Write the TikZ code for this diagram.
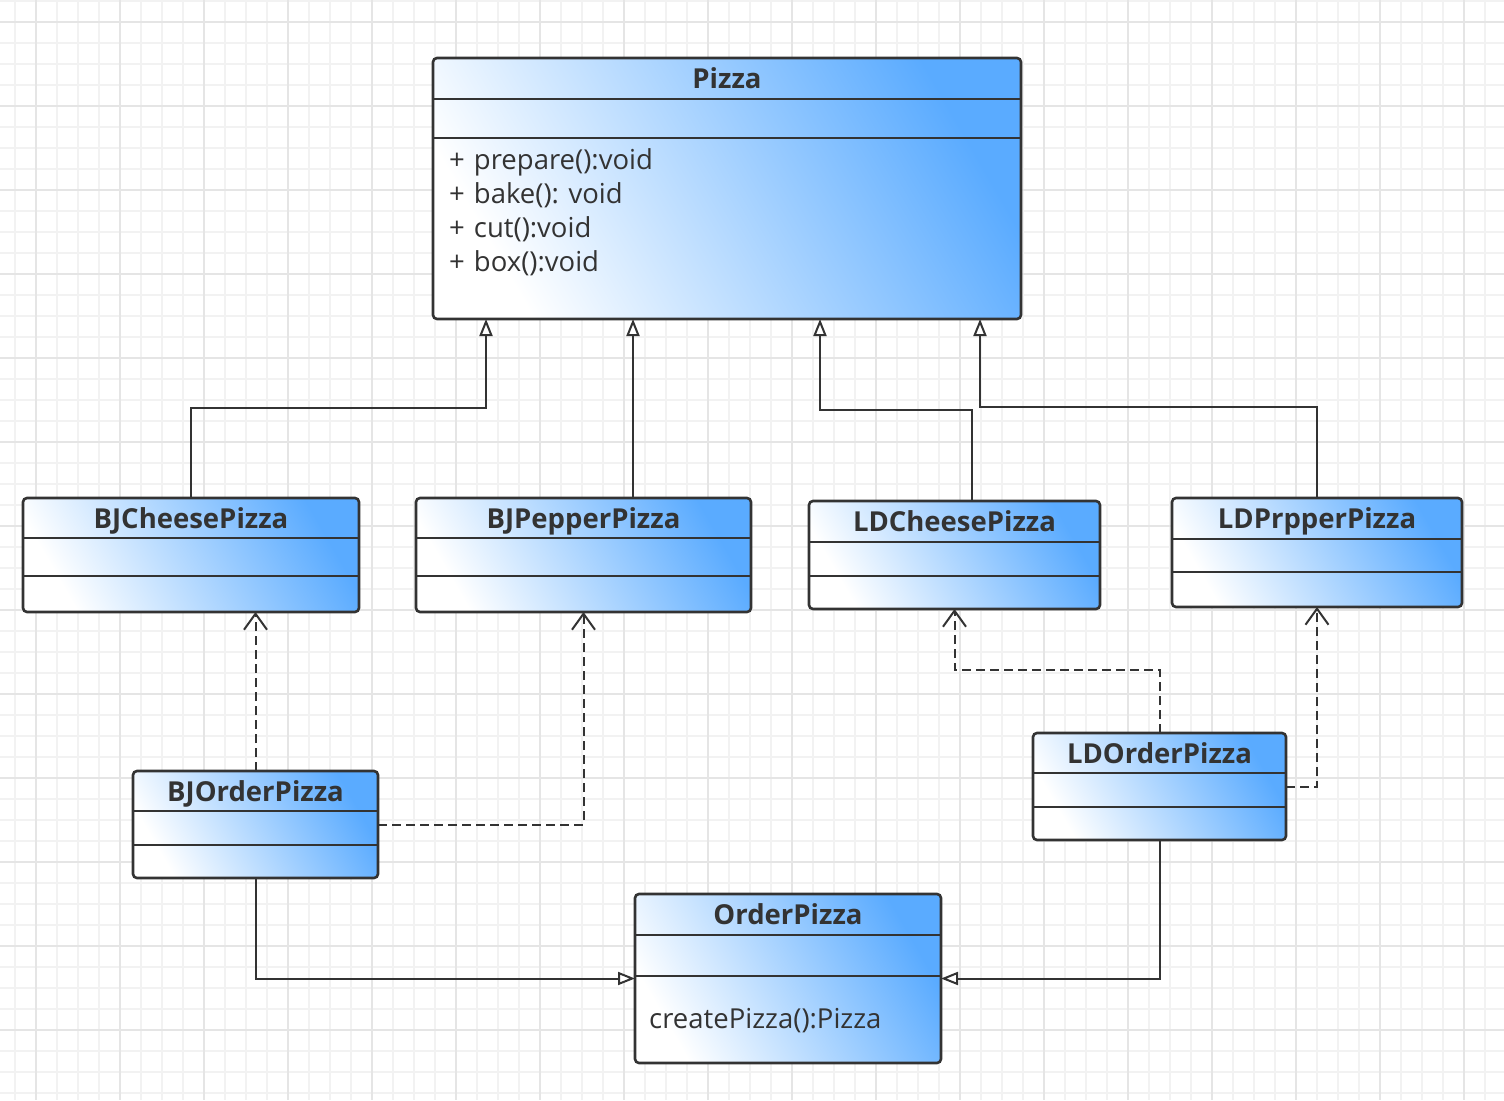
\documentclass[tikz,border=0pt]{standalone}
\usepackage{fontspec}
\setmainfont{Open Sans}
\usetikzlibrary{arrows.meta,calc}
\definecolor{ink}{HTML}{333333}
\definecolor{gradb}{HTML}{5AABFF}
\definecolor{gridminor}{HTML}{F2F2F2}
\definecolor{gridmajor}{HTML}{E5E5E5}
\newcommand\umlclass[8]{%
  \node[classbox, minimum width={#4-#2}, minimum height={#5-#3}] (#1) at (#2,#3) {};
  \draw[divider] (#1.west |- 0,#6) -- (#1.east |- 0,#6);
  \draw[divider] (#1.west |- 0,#7) -- (#1.east |- 0,#7);
  \node[titletext] (#1-title) at ({(#2+#4)/2},{(#3+#6)/2+10}) {#8};
}
\newcommand\plussign{+\hspace{9pt}}
\begin{document}
\begin{tikzpicture}[x=1pt,y=-1pt,
  classbox/.style={draw=ink, line width=2.6pt, rounded corners=4pt,
    left color=white, right color=gradb, shading angle=120,
    inner sep=0pt, outer sep=0pt, anchor=north west, rectangle},
  divider/.style={draw=ink, line width=2.4pt},
  titletext/.style={font=\bfseries\fontsize{27.5}{32}\selectfont, text=ink, inner sep=0pt, anchor=base},
  bodytext/.style={font=\fontsize{27.5}{32}\selectfont, text=ink, inner sep=0pt, anchor=base west},
  inh/.style={draw=ink, line width=2pt, -{Triangle[open, length=17pt, width=13pt, fill=white]}},
  dep/.style={draw=ink, line width=2pt, dash pattern=on 9pt off 5pt, -{Straight Barb[length=16pt, width=23pt]}},
]
\useasboundingbox (0,0) rectangle (1504,1100);
\fill[white] (0,0) rectangle (1504,1100);
% grid
\foreach \x in {15,36,...,1504} \draw[gridminor, line width=1.5pt] (\x,0) -- (\x,1100);
\foreach \y in {1,22,...,1100} \draw[gridminor, line width=1.5pt] (0,\y) -- (1504,\y);
\foreach \x in {36,120,...,1504} \draw[gridmajor, line width=1.5pt] (\x,0) -- (\x,1100);
\foreach \y in {22,106,...,1100} \draw[gridmajor, line width=1.5pt] (0,\y) -- (1504,\y);

% classes
\umlclass{pizza}{433}{58}{1021}{319}{99}{138}{Pizza}
\node[bodytext] (pizza-m1) at (449,169) {\plussign prepare():void};
\node[bodytext] (pizza-m2) at (449,203.5) {\plussign bake(): void};
\node[bodytext] (pizza-m3) at (449,237.5) {\plussign cut():void};
\node[bodytext] (pizza-m4) at (449,271.5) {\plussign box():void};

\umlclass{bjc}{23}{498}{359}{612}{538}{576}{BJCheesePizza}
\umlclass{bjp}{416}{498}{751}{612}{538}{576}{BJPepperPizza}
\umlclass{ldc}{809}{501}{1100}{609}{542}{576}{LDCheesePizza}
\umlclass{ldp}{1172}{498}{1462}{607}{539}{572}{LDPrpperPizza}
\umlclass{bjo}{133}{771}{378}{878}{811}{845}{BJOrderPizza}
\umlclass{ldo}{1033}{733}{1286}{840}{773}{807}{LDOrderPizza}
\umlclass{op}{635}{894}{941}{1063}{935}{976}{OrderPizza}
\node[bodytext] (op-m1) at (649,1028) {createPizza():Pizza};

% generalisation to Pizza
\draw[inh] (bjc.north) |- ($(pizza.south west)+(53,89)$) -- ($(pizza.south west)+(53,0)$);
\draw[inh] ($(bjp.north west)+(217,0)$) -- ($(pizza.south west)+(200,0)$);
\draw[inh] ($(ldc.north west)+(163,0)$) |- ($(pizza.south west)+(387,91)$) -- ($(pizza.south west)+(387,0)$);
\draw[inh] (ldp.north) |- ($(pizza.south west)+(547,88)$) -- ($(pizza.south west)+(547,0)$);

% dependencies
\draw[dep] (bjo.north) -- (bjo.north |- bjc.south);
\draw[dep] (bjo.east) -| (bjp.south);
\draw[dep] (ldo.north) |- ($(ldc.south)+(0,61)$) -- (ldc.south);
\draw[dep] (ldo.east) -| (ldp.south);

% generalisation to OrderPizza
\draw[inh] (bjo.south) |- (op.west);
\draw[inh] (ldo.south) |- (op.east);
\end{tikzpicture}
\end{document}
